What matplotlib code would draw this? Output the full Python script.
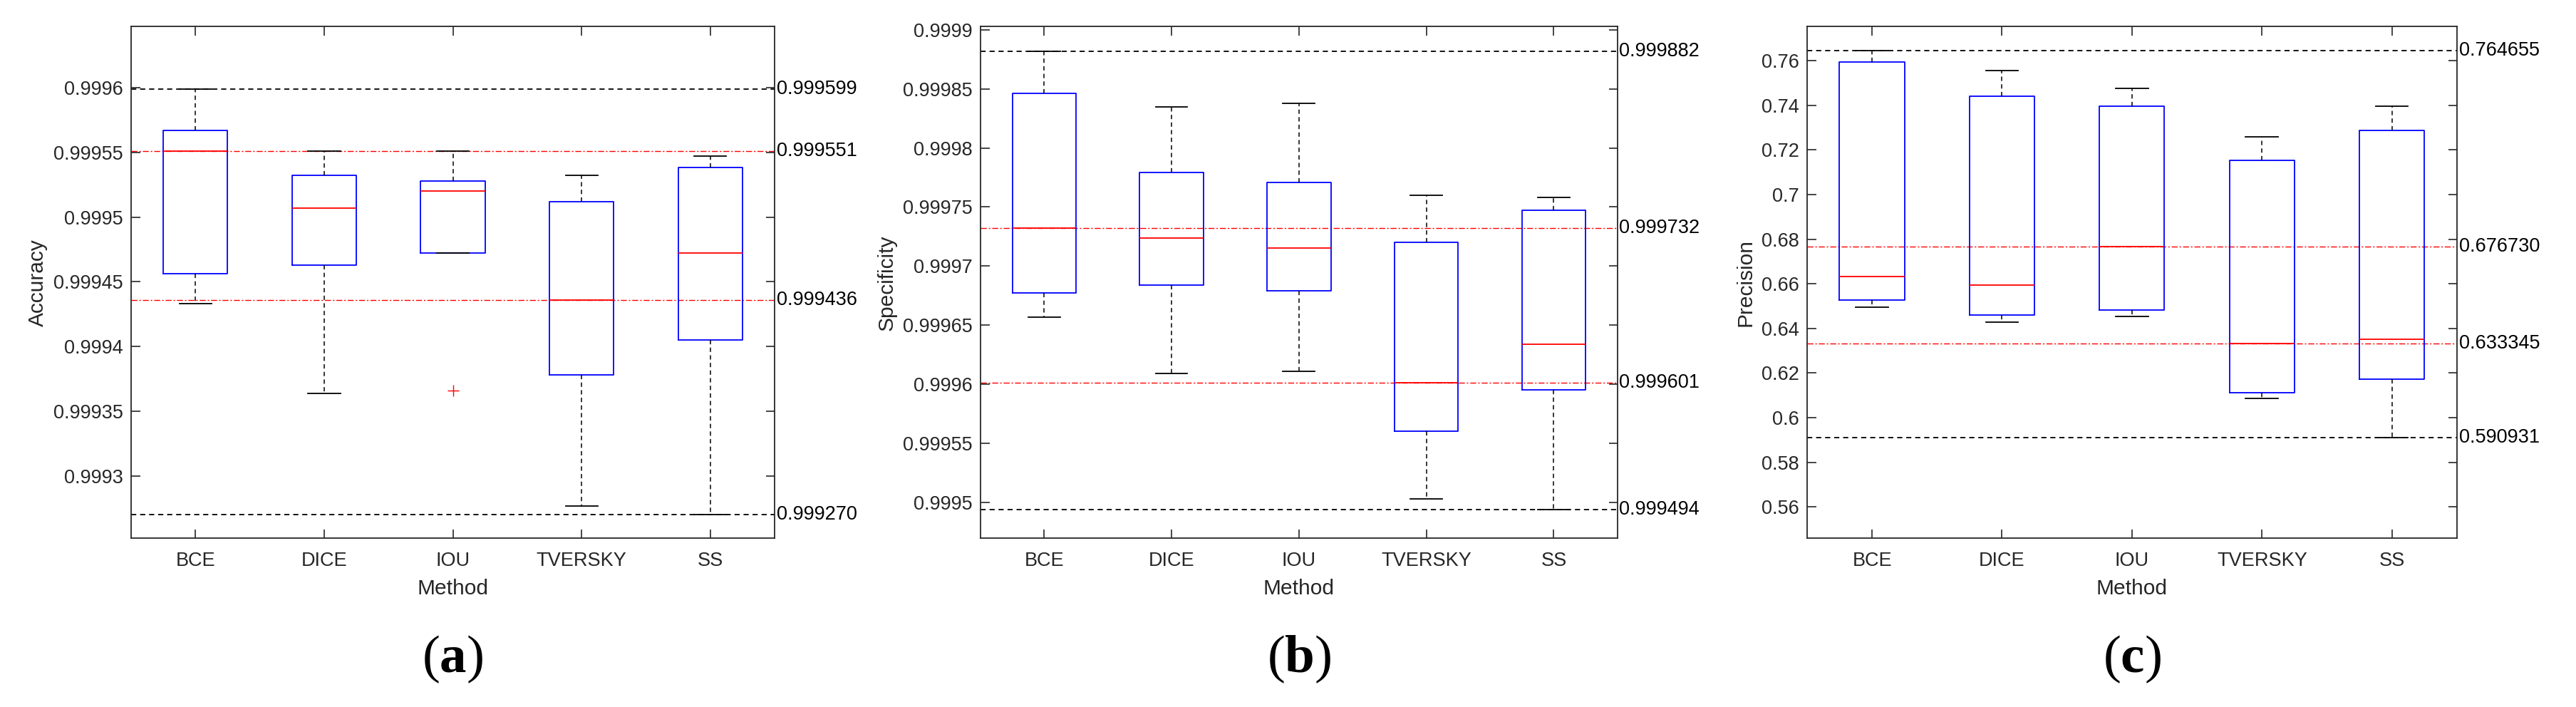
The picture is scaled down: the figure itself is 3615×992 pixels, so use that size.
import matplotlib
matplotlib.use("Agg")
import matplotlib.pyplot as plt
import numpy as np

plt.rcParams["font.family"] = ["Liberation Sans", "DejaVu Sans"]
plt.rcParams["mathtext.fontset"] = "custom"
plt.rcParams["mathtext.rm"] = "Liberation Serif"
plt.rcParams["mathtext.bf"] = "Liberation Serif:bold"

METHODS = ["BCE", "DICE", "IOU", "TVERSKY", "SS"]

# Accuracy
acc_whishi = [0.999599, 0.999551, 0.999551, 0.999532, 0.999547]
acc_q3 = [0.999567, 0.999532, 0.999528, 0.999512, 0.999538]
acc_med = [0.999551, 0.999507, 0.999520, 0.999436, 0.999472]
acc_q1 = [0.999456, 0.999463, 0.999472, 0.999378, 0.999405]
acc_whislo = [0.999433, 0.999364, 0.999472, 0.999277, 0.999270]
acc_fliers = [[], [], [0.999366], [], []]

# Specificity
spe_whishi = [0.999882, 0.999835, 0.999838, 0.999760, 0.999758]
spe_q3 = [0.999846, 0.999779, 0.999771, 0.999720, 0.999747]
spe_med = [0.999732, 0.999724, 0.999715, 0.999601, 0.999634]
spe_q1 = [0.999677, 0.999684, 0.999679, 0.999560, 0.999595]
spe_whislo = [0.999657, 0.999609, 0.999611, 0.999503, 0.999494]
spe_fliers = [[], [], [], [], []]

# Precision
pre_whishi = [0.764655, 0.7555, 0.7475, 0.7257, 0.7395]
pre_q3 = [0.7593, 0.7441, 0.7396, 0.7153, 0.7288]
pre_med = [0.6632, 0.6595, 0.676730, 0.633345, 0.6350]
pre_q1 = [0.6528, 0.6459, 0.6482, 0.6111, 0.6171]
pre_whislo = [0.6496, 0.6427, 0.6454, 0.6087, 0.590931]
pre_fliers = [[], [], [], [], []]

GRAY = "#262626"


def panel(ax, ylabel, whishi, q3, med, q1, whislo, fliers, ylim, yticks, letter):
    stats = []
    for i, name in enumerate(METHODS):
        stats.append(dict(label=name, med=med[i], q1=q1[i], q3=q3[i],
                          whislo=whislo[i], whishi=whishi[i],
                          fliers=fliers[i]))
    pos = np.arange(1, len(METHODS) + 1)
    ax.bxp(stats, positions=pos, widths=0.5, capwidths=0.25,
           boxprops=dict(color="blue", linewidth=1.3),
           medianprops=dict(color="red", linewidth=1.3),
           whiskerprops=dict(color="black", linewidth=1.1, linestyle=(0, (4, 3))),
           capprops=dict(color="black", linewidth=1.3),
           flierprops=dict(marker="+", markeredgecolor="red", markersize=12,
                           markeredgewidth=1.0, linestyle="none"))

    hi, lo = max(whishi), min(whislo)
    mhi, mlo = max(med), min(med)
    for v in (hi, lo):
        ax.axhline(v, color="black", linestyle=(0, (4, 3)), linewidth=1.3, zorder=1)
    for v in (mhi, mlo):
        ax.axhline(v, color="red", linestyle=(0, (6, 2, 1.5, 2)), linewidth=1.0, zorder=1)
    for v in (hi, mhi, mlo, lo):
        ax.text(1.003, v, f"{v:.6f}", transform=ax.get_yaxis_transform(),
                ha="left", va="center", fontsize=19.5, color="black")

    ax.set_xlim(0.5, 5.5)
    ax.set_ylim(*ylim)
    ax.set_yticks(yticks)
    ax.set_yticklabels([f"{round(t, 6):g}" for t in yticks])
    ax.set_xticks(pos)
    ax.set_xticklabels(METHODS)
    ax.tick_params(direction="in", length=9, width=1.2, colors=GRAY,
                   labelsize=19.5, top=True, right=True)
    ax.tick_params(axis="x", pad=14)
    ax.tick_params(axis="y", pad=8)
    for s in ax.spines.values():
        s.set_color(GRAY)
        s.set_linewidth(1.3)
    ax.set_xlabel("Method", fontsize=21.5, color=GRAY, labelpad=8)
    ax.set_ylabel(ylabel, fontsize=21.5, color=GRAY, labelpad=6)

    bb = ax.get_position()
    ax.figure.text((bb.x0 + bb.x1) / 2, 0.0675,
                   r"$\mathrm{(}\mathbf{" + letter + r"}\mathrm{)}$",
                   ha="center", va="center", fontsize=54)


def main():
    fig = plt.figure(figsize=(36.16, 9.92), dpi=100)
    bottom, height = 0.2389, 0.7233
    ax1 = fig.add_axes([0.0509, bottom, 0.2497, height])
    ax2 = fig.add_axes([0.3805, bottom, 0.2472, height])
    ax3 = fig.add_axes([0.7013, bottom, 0.2522, height])

    panel(ax1, "Accuracy", acc_whishi, acc_q3, acc_med, acc_q1, acc_whislo,
          acc_fliers, (0.999252, 0.999647),
          np.arange(0.9993, 0.99961, 0.00005), "a")
    panel(ax2, "Specificity", spe_whishi, spe_q3, spe_med, spe_q1, spe_whislo,
          spe_fliers, (0.9994696, 0.9999027),
          np.arange(0.9995, 0.99991, 0.00005), "b")
    panel(ax3, "Precision", pre_whishi, pre_q3, pre_med, pre_q1, pre_whislo,
          pre_fliers, (0.546, 0.7752),
          np.arange(0.56, 0.7601, 0.02), "c")

    fig.savefig("out.png", dpi=100)


if __name__ == "__main__":
    main()
